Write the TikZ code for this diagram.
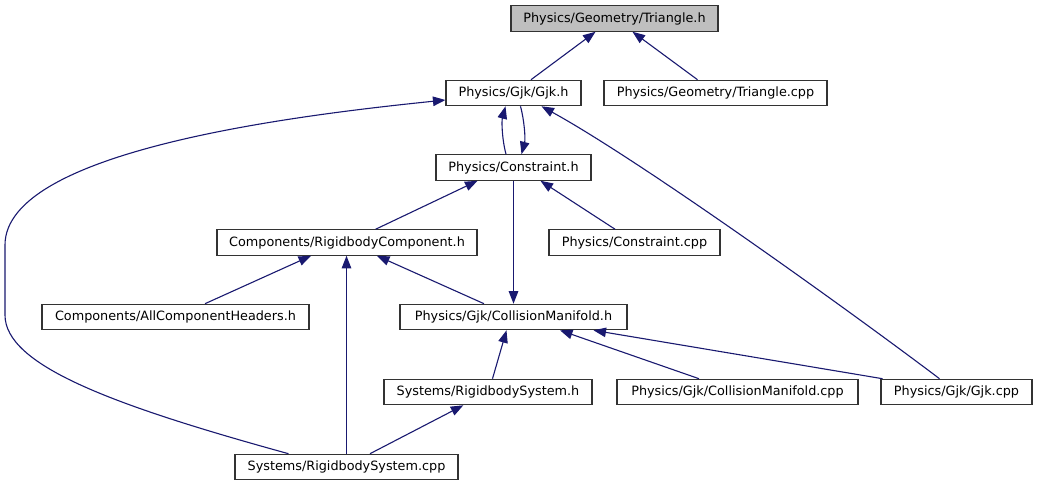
\documentclass[tikz,border=0pt]{standalone}
\usepackage{fontspec}
\setmainfont{DejaVu Sans}
\usetikzlibrary{arrows.meta,calc}
\definecolor{edgecol}{HTML}{191970}
\definecolor{boxline}{HTML}{333333}
\definecolor{rootfill}{HTML}{BFBFBF}
\begin{document}
\begin{tikzpicture}[x=1pt,y=1pt,
  box/.style={draw=boxline, line width=1.1pt, fill=white, inner sep=0pt,
    minimum height=25.5pt, font=\fontsize{12.8}{15}\selectfont},
  rootbox/.style={box, fill=rootfill},
  edge/.style={draw=edgecol, line width=1.1pt, -{Triangle[length=12.5pt,width=9.5pt]}}]
\useasboundingbox (0,0) rectangle (1037,-485);
\fill[white] (0,0) rectangle (1037,-485);

\node[rootbox, minimum width=207pt] (tri) at (614.5,-18.5) {Physics/Geometry/Triangle.h};
\node[box, minimum width=135pt] (gjkh) at (513.5,-93) {Physics/Gjk/Gjk.h};
\node[box, minimum width=223pt] (tricpp) at (715.5,-93) {Physics/Geometry/Triangle.cpp};
\node[box, minimum width=155pt] (cons) at (513.5,-167.5) {Physics/Constraint.h};
\node[box, minimum width=260pt] (rbc) at (347,-242.5) {Components/RigidbodyComponent.h};
\node[box, minimum width=171pt] (conscpp) at (634.5,-242.5) {Physics/Constraint.cpp};
\node[box, minimum width=267pt] (ach) at (175.5,-317) {Components/AllComponentHeaders.h};
\node[box, minimum width=227pt] (cmh) at (513.5,-317) {Physics/Gjk/CollisionManifold.h};
\node[box, minimum width=208pt] (rsh) at (488,-392) {Systems/RigidbodySystem.h};
\node[box, minimum width=241pt] (cmcpp) at (737.5,-392) {Physics/Gjk/CollisionManifold.cpp};
\node[box, minimum width=151pt] (gjkcpp) at (956.5,-392) {Physics/Gjk/Gjk.cpp};
\node[box, minimum width=223pt] (rscpp) at (346.5,-467) {Systems/RigidbodySystem.cpp};

% edges
\draw[edge] ([xshift=17.5pt]gjkh.north) -- ([xshift=-19pt]tri.south);
\draw[edge] ([xshift=-18pt]tricpp.north) -- ([xshift=18pt]tri.south);
\draw[edge] ([xshift=-7.5pt]cons.north) .. controls +(-4,15) and +(-4,-15) .. ([xshift=-8pt]gjkh.south);
\draw[edge] ([xshift=7pt]gjkh.south) .. controls +(4,-15) and +(4,15) .. ([xshift=8pt]cons.north);
\draw[edge] ([xshift=-17pt]gjkcpp.north) .. controls +(-90,68) and +(100,-55) .. ([xshift=28pt]gjkh.south);
\coordinate (lc1) at (5,-315);
\coordinate (lc2) at (5,-245);
\draw[edge] ([xshift=-58pt]rscpp.north) .. controls +(-178,49) and +(0,-50) .. (lc1)
  -- (lc2) .. controls +(0,95) and +(-146,-15) .. ([yshift=-7pt]gjkh.west);
\draw[edge] ([xshift=28.7pt]rbc.north) -- ([xshift=-36pt]cons.south);
\draw[edge] ([xshift=-19.5pt]conscpp.north) -- ([xshift=27pt]cons.south);
\draw[edge] (cons.south) -- (cmh.north);
\draw[edge] ([xshift=29.5pt]ach.north) -- ([xshift=-36pt]rbc.south);
\draw[edge] (rscpp.north) -- (rscpp.north |- rbc.south);
\draw[edge] ([xshift=-29.5pt]cmh.north) -- ([xshift=30pt]rbc.south);
\draw[edge] ([xshift=4.5pt]rsh.north) -- ([xshift=-7pt]cmh.south);
\draw[edge] ([xshift=-38.5pt]cmcpp.north) -- ([xshift=46.5pt]cmh.south);
\draw[edge] ([xshift=-74pt]gjkcpp.north) -- ([xshift=80pt]cmh.south);
\draw[edge] ([xshift=23.5pt]rscpp.north) -- ([xshift=-24.7pt]rsh.south);
\end{tikzpicture}
\end{document}
